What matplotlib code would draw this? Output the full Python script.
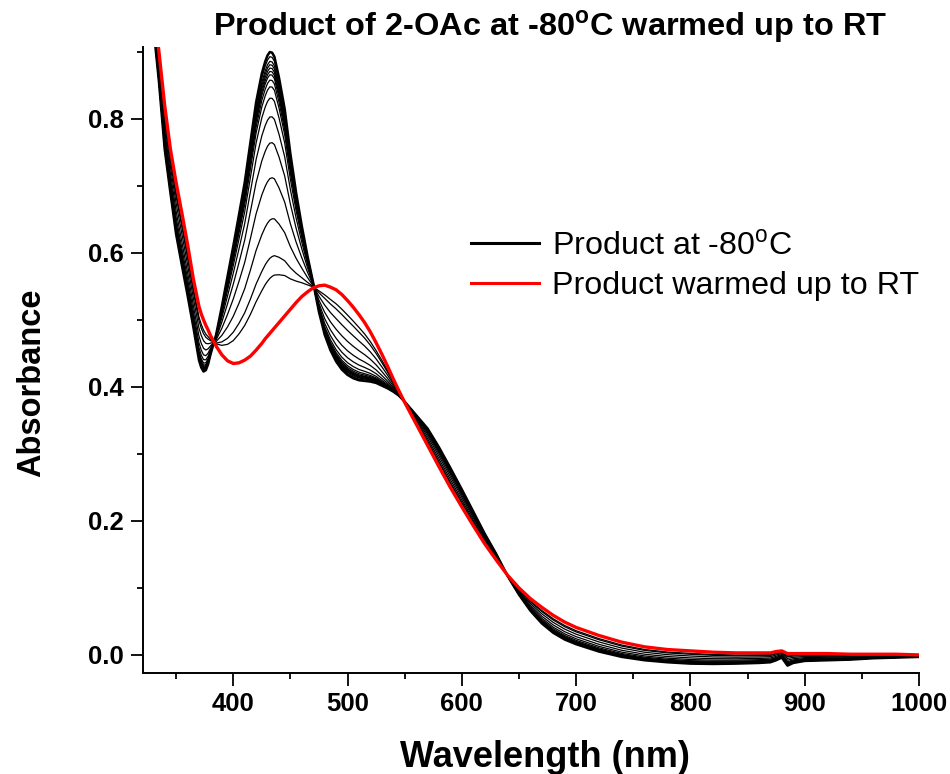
import numpy as np
from matplotlib import pyplot as plt
from matplotlib.lines import Line2D
from matplotlib.ticker import MultipleLocator

# wavelength grid (nm) and the two end spectra
wavelength = [320, 325, 330, 335, 340, 345, 350, 355, 360, 365, 370, 372, 374, 376, 378, 380, 385, 390,
              395, 400, 405, 410, 415, 420, 425, 428, 430, 432, 434, 436, 440, 445, 450, 455, 460,
              465, 470, 475, 480, 485, 490, 495, 500, 505, 510, 515, 520, 525, 530, 535,
              540, 545, 550, 555, 560, 570, 580, 590, 600, 610, 620, 630, 640, 650, 660,
              670, 680, 690, 700, 720, 740, 760, 780, 800, 820, 840, 860, 870, 875, 880,
              885, 890, 900, 920, 940, 960, 980, 1000]

abs_cold = [1.15, 1.04, 0.94, 0.855, 0.755, 0.69, 0.628, 0.582, 0.537, 0.49, 0.44, 0.429, 0.423, 0.425, 0.434, 0.448, 0.478, 0.52,
            0.565, 0.61, 0.657, 0.705, 0.765, 0.825, 0.868, 0.886, 0.895, 0.900, 0.899, 0.893, 0.862, 0.815, 0.748, 0.69, 0.64,
            0.595, 0.555, 0.512, 0.478, 0.455, 0.438, 0.426, 0.418, 0.413, 0.41, 0.409, 0.408, 0.406, 0.402, 0.398,
            0.393, 0.387, 0.378, 0.368, 0.358, 0.338, 0.31, 0.279, 0.247, 0.214, 0.181, 0.151, 0.118, 0.09, 0.066,
            0.047, 0.033, 0.023, 0.016, 0.005, -0.003, -0.008, -0.011, -0.013, -0.0135, -0.013, -0.012, -0.011, -0.008, -0.004,
            -0.016, -0.012, -0.009, -0.008, -0.007, -0.005, -0.004, -0.003]

abs_rt = [1.17, 1.07, 0.97, 0.9, 0.82, 0.755, 0.705, 0.66, 0.613, 0.562, 0.52, 0.509, 0.5, 0.492, 0.485, 0.477, 0.461, 0.448,
          0.439, 0.435, 0.436, 0.44, 0.446, 0.455, 0.465, 0.472, 0.476, 0.48, 0.484, 0.488, 0.496, 0.506, 0.516, 0.526, 0.535,
          0.542, 0.548, 0.551, 0.552, 0.549, 0.545, 0.538, 0.529, 0.519, 0.508, 0.496, 0.482, 0.466, 0.449, 0.431,
          0.412, 0.394, 0.377, 0.361, 0.345, 0.313, 0.281, 0.25, 0.221, 0.193, 0.166, 0.142, 0.119, 0.1, 0.084,
          0.071, 0.059, 0.049, 0.041, 0.029, 0.019, 0.012, 0.008, 0.006, 0.004, 0.003, 0.003, 0.003, 0.005, 0.006,
          0.002, 0.002, 0.002, 0.002, 0.001, 0.001, 0.001, 0.0]

# absorbance at 432 nm of each black trace while warming (first = -80 C spectrum)
peak_432 = [0.900, 0.893, 0.886, 0.881, 0.876, 0.871, 0.866, 0.858, 0.848, 0.831,
            0.803, 0.764, 0.711, 0.649, 0.592, 0.562]

wl = np.array(wavelength)
a_cold = np.array(abs_cold)
a_rt = np.array(abs_rt)
i432 = wavelength.index(432)

plt.rcParams['font.family'] = ['Liberation Sans', 'DejaVu Sans']
plt.rcParams['mathtext.fontset'] = 'custom'
plt.rcParams['mathtext.rm'] = 'Liberation Sans'
plt.rcParams['mathtext.bf'] = 'Liberation Sans:bold'

fig = plt.figure(figsize=(9.5, 7.74), dpi=100)
ax = fig.add_axes([0.1505, 0.1305, 0.8168, 0.8088])

for k, p in enumerate(peak_432):
    frac = (p - a_rt[i432]) / (a_cold[i432] - a_rt[i432])
    trace = a_rt + frac * (a_cold - a_rt)
    ax.plot(wl, trace, color='black', lw=1.8 if k == 0 else 0.9, zorder=2)
ax.plot(wl, a_rt, color='red', lw=2.4, zorder=3)

ax.set_xlim(321, 1000)
ax.set_ylim(-0.027, 0.9075)
ax.xaxis.set_major_locator(MultipleLocator(100))
ax.xaxis.set_minor_locator(MultipleLocator(50))
ax.yaxis.set_major_locator(MultipleLocator(0.2))
ax.yaxis.set_minor_locator(MultipleLocator(0.1))
ax.spines['top'].set_visible(False)
ax.spines['right'].set_visible(False)
for s in ['left', 'bottom']:
    ax.spines[s].set_linewidth(1.4)
ax.tick_params(which='major', direction='out', length=9, width=1.3, labelsize=18.5, pad=5)
ax.tick_params(which='minor', direction='out', length=4.5, width=1.3)
for lab in ax.get_xticklabels() + ax.get_yticklabels():
    lab.set_fontweight('bold')
ax.yaxis.set_major_formatter(plt.FormatStrFormatter('%.1f'))

ax.set_xlabel('Wavelength (nm)', fontsize=26, fontweight='bold')
ax.xaxis.set_label_coords(0.518, -0.107)
ax.set_ylabel('Absorbance', fontsize=23.5, fontweight='bold')
ax.yaxis.set_label_coords(-0.124, 0.463)
fig.text(0.579, 0.965, r'Product of 2-OAc at -80$^{\mathbf{o}}$C warmed up to RT',
         fontsize=23.4, fontweight='bold', ha='center', va='center')

handles = [Line2D([], [], color='black', lw=2.2), Line2D([], [], color='red', lw=2.2)]
ax.legend(handles, [r'Product at -80$^{\mathregular{o}}$C', 'Product warmed up to RT'],
          loc='upper left', bbox_to_anchor=(471 / 950, 1 - 231 / 774), bbox_transform=fig.transFigure,
          frameon=False, borderpad=0, borderaxespad=0, handlelength=2.1, handletextpad=0.4,
          labelspacing=0.3, prop={'family': 'Liberation Sans', 'size': 23.2})

plt.savefig('out.png', dpi=100)
